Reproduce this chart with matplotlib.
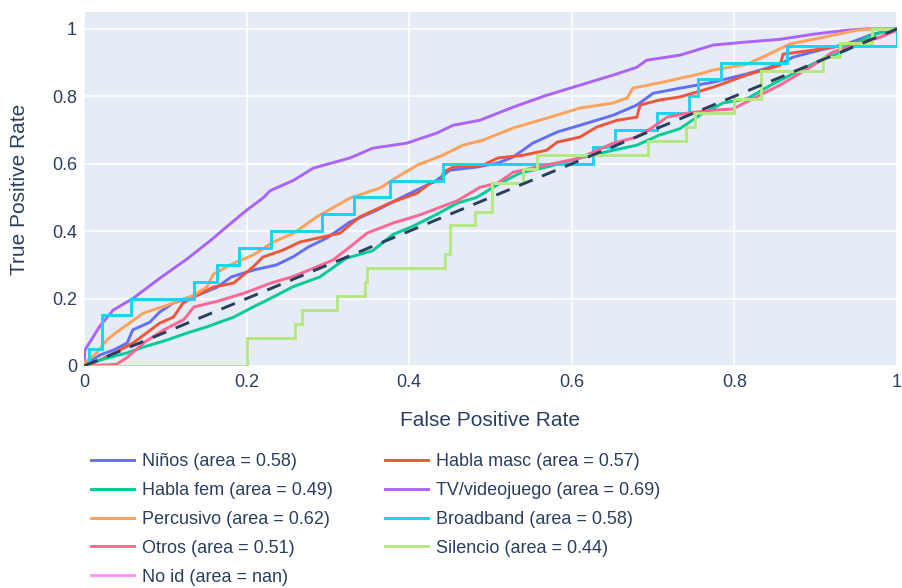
import numpy as np
import matplotlib.pyplot as plt

# Curvas ROC (FPR, TPR) por clase
ninos_fpr = [0, 0.005, 0.02, 0.036, 0.053, 0.06, 0.081, 0.093, 0.11, 0.135, 0.164, 0.181, 0.209, 0.237, 0.258,
             0.276, 0.299, 0.327, 0.36, 0.389, 0.417, 0.434, 0.45, 0.483, 0.509, 0.528, 0.552, 0.582, 0.61, 0.651,
             0.68, 0.70, 0.733, 0.774, 0.815, 0.856, 0.872, 0.905, 0.938, 0.97, 1.0]
ninos_tpr = [0, 0.01, 0.033, 0.047, 0.068, 0.107, 0.13, 0.16, 0.187, 0.205, 0.234, 0.264, 0.285, 0.3, 0.325,
             0.353, 0.38, 0.427, 0.462, 0.498, 0.531, 0.551, 0.581, 0.59, 0.602, 0.62, 0.661, 0.694, 0.714, 0.744,
             0.774, 0.809, 0.824, 0.842, 0.866, 0.895, 0.916, 0.937, 0.955, 0.984, 1.0]

masc_fpr = [0, 0.005, 0.02, 0.044, 0.06, 0.077, 0.093, 0.11, 0.122, 0.139, 0.159, 0.184, 0.208, 0.22, 0.245,
            0.266, 0.315, 0.339, 0.376, 0.41, 0.426, 0.44, 0.442, 0.454, 0.491, 0.509, 0.54, 0.569, 0.582, 0.61,
            0.631, 0.656, 0.68, 0.684, 0.708, 0.733, 0.774, 0.815, 0.856, 0.86, 0.897, 0.938, 0.979, 1.0]
masc_tpr = [0, 0.003, 0.018, 0.047, 0.068, 0.098, 0.127, 0.145, 0.187, 0.21, 0.234, 0.246, 0.294, 0.323, 0.344,
            0.368, 0.394, 0.442, 0.483, 0.513, 0.543, 0.551, 0.575, 0.59, 0.596, 0.617, 0.625, 0.64, 0.664, 0.679,
            0.709, 0.729, 0.738, 0.774, 0.789, 0.798, 0.827, 0.863, 0.892, 0.925, 0.937, 0.952, 0.975, 1.0]

fem_fpr = [0, 0.005, 0.02, 0.053, 0.073, 0.102, 0.127, 0.151, 0.184, 0.208, 0.233, 0.257, 0.29, 0.323, 0.355,
           0.38, 0.405, 0.434, 0.459, 0.483, 0.508, 0.536, 0.569, 0.61, 0.651, 0.68, 0.708, 0.733, 0.758, 0.786,
           0.815, 0.847, 0.881, 0.909, 0.938, 0.963, 0.988, 1.0]
fem_tpr = [0, 0.003, 0.018, 0.039, 0.056, 0.077, 0.098, 0.116, 0.145, 0.175, 0.205, 0.235, 0.264, 0.32, 0.342,
           0.39, 0.415, 0.45, 0.483, 0.50, 0.537, 0.572, 0.59, 0.617, 0.64, 0.655, 0.685, 0.704, 0.745, 0.78,
           0.792, 0.836, 0.878, 0.91, 0.937, 0.975, 0.996, 1.0]

tv_fpr = [0, 0.001, 0.02, 0.036, 0.06, 0.093, 0.127, 0.156, 0.176, 0.2, 0.221, 0.229, 0.258, 0.282, 0.327, 0.355,
          0.397, 0.434, 0.454, 0.487, 0.528, 0.569, 0.61, 0.651, 0.68, 0.692, 0.733, 0.774, 0.815, 0.856, 0.897,
          0.938, 0.963, 1.0]
tv_tpr = [0, 0.047, 0.12, 0.166, 0.2, 0.26, 0.318, 0.373, 0.414, 0.462, 0.50, 0.52, 0.551, 0.587, 0.617, 0.646,
          0.661, 0.691, 0.714, 0.729, 0.768, 0.803, 0.833, 0.863, 0.886, 0.907, 0.922, 0.952, 0.961, 0.969, 0.984,
          0.996, 1.0, 1.0]

perc_fpr = [0, 0.001, 0.016, 0.028, 0.04, 0.053, 0.073, 0.102, 0.135, 0.151, 0.159, 0.184, 0.208, 0.233, 0.258,
            0.286, 0.327, 0.364, 0.385, 0.41, 0.442, 0.466, 0.491, 0.528, 0.569, 0.61, 0.651, 0.668, 0.675, 0.712,
            0.755, 0.774, 0.815, 0.84, 0.868, 0.909, 0.951, 0.967, 1.0]
perc_tpr = [0, 0.01, 0.04, 0.077, 0.1, 0.122, 0.157, 0.18, 0.21, 0.234, 0.272, 0.305, 0.329, 0.368, 0.394,
            0.442, 0.498, 0.528, 0.56, 0.596, 0.626, 0.655, 0.67, 0.706, 0.735, 0.765, 0.78, 0.795, 0.824, 0.842,
            0.865, 0.878, 0.895, 0.922, 0.955, 0.975, 0.996, 1.0, 1.0]

broad_fpr = [0, 0.006, 0.006, 0.022, 0.022, 0.058, 0.058, 0.135, 0.135, 0.164, 0.164, 0.191, 0.191, 0.230, 0.230,
             0.293, 0.293, 0.332, 0.332, 0.376, 0.376, 0.442, 0.442, 0.626, 0.626, 0.653, 0.653, 0.705, 0.705,
             0.744, 0.744, 0.755, 0.755, 0.783, 0.783, 0.865, 0.865, 1.0, 1.0]
broad_tpr = [0, 0, 0.05, 0.05, 0.15, 0.15, 0.20, 0.20, 0.25, 0.25, 0.30, 0.30, 0.35, 0.35, 0.40,
             0.40, 0.45, 0.45, 0.50, 0.50, 0.55, 0.55, 0.60, 0.60, 0.65, 0.65, 0.70, 0.70, 0.75,
             0.75, 0.80, 0.80, 0.85, 0.85, 0.90, 0.90, 0.95, 0.95, 1.0]

otros_fpr = [0, 0.04, 0.053, 0.074, 0.098, 0.123, 0.135, 0.164, 0.197, 0.23, 0.258, 0.282, 0.306, 0.327, 0.348,
             0.38, 0.413, 0.438, 0.459, 0.487, 0.509, 0.528, 0.569, 0.61, 0.651, 0.68, 0.70, 0.717, 0.742, 0.774,
             0.798, 0.831, 0.856, 0.877, 0.897, 0.921, 0.946, 0.979, 1.0, 1.0]
otros_tpr = [0, 0.005, 0.025, 0.07, 0.107, 0.138, 0.175, 0.192, 0.216, 0.246, 0.266, 0.29, 0.314, 0.353, 0.394,
             0.424, 0.448, 0.471, 0.49, 0.53, 0.543, 0.575, 0.596, 0.617, 0.661, 0.679, 0.709, 0.738, 0.75, 0.759,
             0.762, 0.803, 0.833, 0.863, 0.892, 0.931, 0.952, 0.975, 0.996, 1.0]

sil_fpr = [0, 0.2, 0.2, 0.26, 0.26, 0.268, 0.268, 0.311, 0.311, 0.346, 0.346, 0.348, 0.348, 0.444, 0.444, 0.45,
           0.45, 0.481, 0.481, 0.502, 0.502, 0.54, 0.54, 0.557, 0.557, 0.694, 0.694, 0.741, 0.741, 0.752, 0.752,
           0.80, 0.80, 0.833, 0.833, 0.909, 0.909, 0.93, 0.93, 0.969, 0.969, 1.0]
sil_tpr = [0, 0, 0.083, 0.083, 0.125, 0.125, 0.167, 0.167, 0.208, 0.208, 0.25, 0.25, 0.292, 0.292, 0.333, 0.333,
           0.417, 0.417, 0.458, 0.458, 0.542, 0.542, 0.583, 0.583, 0.625, 0.625, 0.667, 0.667, 0.708, 0.708, 0.75,
           0.75, 0.792, 0.792, 0.875, 0.875, 0.917, 0.917, 0.958, 0.958, 1.0, 1.0]

noid_fpr = []
noid_tpr = []

clases = ["Niños", "Habla masc", "Habla fem", "TV/videojuego", "Percusivo", "Broadband", "Otros", "Silencio", "No id"]
areas = ["0.58", "0.57", "0.49", "0.69", "0.62", "0.58", "0.51", "0.44", "nan"]
colores = ["#636EFA", "#EF553B", "#00CC96", "#AB63FA", "#FFA15A", "#19D3F3", "#FF6692", "#B6E880", "#FF97FF"]
curvas = [(ninos_fpr, ninos_tpr), (masc_fpr, masc_tpr), (fem_fpr, fem_tpr), (tv_fpr, tv_tpr),
          (perc_fpr, perc_tpr), (broad_fpr, broad_tpr), (otros_fpr, otros_tpr), (sil_fpr, sil_tpr),
          (noid_fpr, noid_tpr)]

ticks = [0, 0.2, 0.4, 0.6, 0.8, 1]
tick_labels = ["0", "0.2", "0.4", "0.6", "0.8", "1"]

plt.rcParams['font.family'] = ['Liberation Sans', 'DejaVu Sans']
texto = "#2a3f5f"

fig = plt.figure(figsize=(9.02, 5.88), dpi=100)
ax = fig.add_axes([84 / 902, 1 - 366 / 588, 813 / 902, 354 / 588])
ax.set_facecolor("#E5ECF6")

lineas = []
for nombre, area, color, (fpr, tpr) in zip(clases, areas, colores, curvas):
    l, = ax.plot(fpr, tpr, color=color, lw=2.1, label=f"{nombre} (area = {area})", solid_joinstyle='miter')
    lineas.append(l)

# diagonal de referencia
ax.plot([0, 1], [0, 1], color=texto, lw=2.1, dashes=(5, 3.5), zorder=10)

ax.set_xlim(0, 1)
ax.set_ylim(0, 1.05)
ax.set_xticks(ticks)
ax.set_xticklabels(tick_labels)
ax.set_yticks(ticks)
ax.set_yticklabels(tick_labels)
ax.grid(True, color="white", lw=1.1)
ax.set_axisbelow(True)
for s in ax.spines.values():
    s.set_visible(False)
ax.tick_params(length=0, labelsize=13, labelcolor=texto)
ax.tick_params(axis='x', pad=6)
ax.tick_params(axis='y', pad=5)

ax.set_xlabel("False Positive Rate", fontsize=15, color=texto)
ax.xaxis.set_label_coords(0.5, (366 - 420) / 354)
ax.xaxis.label.set_va('center')
ax.set_ylabel("True Positive Rate", fontsize=15, color=texto)
ax.yaxis.set_label_coords((20 - 84) / 813, 0.5)
ax.yaxis.label.set_va('center')

# leyenda en dos columnas, orden por filas como en plotly
orden = [0, 2, 4, 6, 8, 1, 3, 5, 7]
fig.legend([lineas[i] for i in orden], [lineas[i].get_label() for i in orden],
           loc='upper left', bbox_to_anchor=(91 / 902, 1 - 453 / 588), ncol=2,
           frameon=False, fontsize=13, labelcolor=texto, handlelength=2.4, handletextpad=0.45,
           columnspacing=2.85, labelspacing=0.66, borderpad=0, borderaxespad=0)

fig.savefig("out.png", dpi=100)
